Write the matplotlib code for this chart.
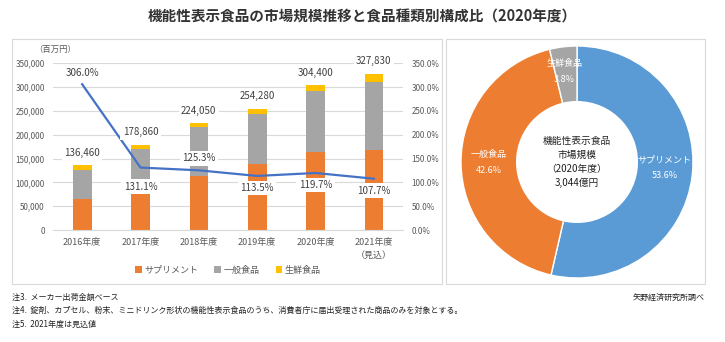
import matplotlib
matplotlib.use("Agg")
from matplotlib import pyplot as plt
from matplotlib.patches import Rectangle
from matplotlib.ticker import FuncFormatter
import numpy as np

plt.rcParams["font.family"] = ["Noto Sans CJK JP", "DejaVu Sans"]

# data (百万円)
years = ["2016年度", "2017年度", "2018年度", "2019年度", "2020年度", "2021年度\n（見込）"]
supplement = [66000, 77000, 114000, 138600, 163160, 168000]
general = [61000, 92500, 101500, 105000, 129670, 143400]
fresh = [9460, 9360, 8550, 10680, 11570, 16430]
totals = [136460, 178860, 224050, 254280, 304400, 327830]
growth = [306.0, 131.1, 125.3, 113.5, 119.7, 107.7]
growth_offsets = [11, -19, 12, -12, -12, -12]  # px above(+)/below(-) the point

# donut (2020年度)
pie_labels = ["サプリメント", "一般食品", "生鮮食品"]
pie_shares = [53.6, 42.6, 3.8]

C_ORANGE = "#ED7D31"
C_GRAY = "#A5A5A5"
C_YELLOW = "#FFC000"
C_BLUE = "#4472C4"
C_PIE_BLUE = "#5B9BD5"
TXT = "#404040"
TICK = "#595959"

W, H = 725, 342
fig = plt.figure(figsize=(W / 100, H / 100), dpi=100)


def fx(px):
    return px / W


def fy(py):
    return 1 - py / H


# panel frames
for x0, x1 in [(12, 442), (446, 705)]:
    fig.patches.append(Rectangle((fx(x0), fy(284)), fx(x1 - x0), (284 - 39) / H,
                                 transform=fig.transFigure, fill=False,
                                 edgecolor="#D9D9D9", linewidth=0.8))

fig.text(fx(362), fy(17), "機能性表示食品の市場規模推移と食品種類別構成比（2020年度）",
         ha="center", va="center", fontsize=10.5, color="#333333", fontweight="bold")

# bar + line chart
ax = fig.add_axes([fx(53), fy(230), fx(350), 166.7 / H])
x = np.arange(len(years))
bw = 0.32
ax.bar(x, supplement, bw, color=C_ORANGE, label="サプリメント", zorder=2)
ax.bar(x, general, bw, bottom=supplement, color=C_GRAY, label="一般食品", zorder=2)
bottom2 = np.array(supplement) + np.array(general)
ax.bar(x, fresh, bw, bottom=bottom2, color=C_YELLOW, label="生鮮食品", zorder=2)
ax.set_xlim(-0.5, len(years) - 0.5)
ax.set_ylim(0, 350000)
ax.set_yticks(np.arange(0, 350001, 50000))
ax.yaxis.set_major_formatter(FuncFormatter(lambda v, _: f"{v:,.0f}"))
ax.grid(True, axis="y", color="#D9D9D9", linewidth=0.8, zorder=0)
ax.set_axisbelow(True)
for s in ax.spines.values():
    s.set_visible(False)
ax.spines["bottom"].set_visible(True)
ax.spines["bottom"].set_color("#D9D9D9")
ax.tick_params(axis="y", length=0, labelsize=5.8, labelcolor=TICK, pad=6)
ax.tick_params(axis="x", length=0, labelsize=6.5, labelcolor=TICK, pad=6)
ax.set_xticks(x)
ax.set_xticklabels(years, linespacing=1.5, va="top")

fig.text(fx(55), fy(49), "（百万円）", ha="center", va="center", fontsize=6, color=TICK)

ax2 = ax.twinx()
ax2.set_ylim(0, 350)
ax2.set_yticks(np.arange(0, 351, 50))
ax2.yaxis.set_major_formatter(FuncFormatter(lambda v, _: f"{v:.1f}%"))
ax2.tick_params(axis="y", length=0, labelsize=5.8, labelcolor=TICK, pad=6)
for s in ax2.spines.values():
    s.set_visible(False)
ax2.plot(x, growth, color=C_BLUE, linewidth=1.6, zorder=3)

box = dict(boxstyle="square,pad=0.25", facecolor="white", edgecolor="none")
for i, t in enumerate(totals):
    ax2.annotate(f"{t:,}", (x[i], t / 1000), xytext=(0, 9), textcoords="offset points",
                 ha="center", va="center", fontsize=7, color=TXT, bbox=box, zorder=4)
for i, g in enumerate(growth):
    ax2.annotate(f"{g:.1f}%", (x[i], g), xytext=(0, growth_offsets[i] * 0.72),
                 textcoords="offset points", ha="center", va="center",
                 fontsize=7, color=TXT, bbox=box, zorder=4)

leg = fig.legend(*ax.get_legend_handles_labels(), loc="center", bbox_to_anchor=(fx(228), fy(270)),
                 ncol=3, frameon=False, fontsize=6.5, handlelength=0.7, handleheight=0.7,
                 columnspacing=1.8, handletextpad=0.3)
for t in leg.get_texts():
    t.set_color(TICK)

# donut
r_out = 116
axp = fig.add_axes([fx(577 - r_out), fy(162 + r_out), fx(2 * r_out), 2 * r_out / H])
wedges, _ = axp.pie(pie_shares, colors=[C_PIE_BLUE, C_ORANGE, C_GRAY], startangle=90,
                    counterclock=False, radius=1.0,
                    wedgeprops=dict(width=0.48, edgecolor="white", linewidth=1.0))
axp.set_xlim(-1, 1)
axp.set_ylim(-1, 1)
axp.set_aspect("equal")
axp.axis("off")

label_pos = [(0.755, -0.05), (-0.76, 0.0), (-0.11, 0.78)]
for (lx, ly), name, share in zip(label_pos, pie_labels, pie_shares):
    axp.text(lx, ly, f"{name}\n{share:.1f}%", ha="center", va="center", fontsize=6.5,
             color="white", linespacing=2.0)

axp.text(0, 0, "機能性表示食品\n市場規模\n（2020年度）\n3,044億円", ha="center", va="center",
         fontsize=7, color="#222222", linespacing=1.45)

# footnotes
notes = ["注3.  メーカー出荷金額ベース",
         "注4.  錠剤、カプセル、粉末、ミニドリンク形状の機能性表示食品のうち、消費者庁に届出受理された商品のみを対象とする。",
         "注5.  2021年度は見込値"]
for i, n in enumerate(notes):
    fig.text(fx(12), fy(297 + 13.5 * i), n, ha="left", va="center", fontsize=5.8, color="#222222")
fig.text(fx(705), fy(297), "矢野経済研究所調べ", ha="right", va="center", fontsize=5.8, color="#222222")

fig.savefig("out.png", dpi=100, facecolor="white")
